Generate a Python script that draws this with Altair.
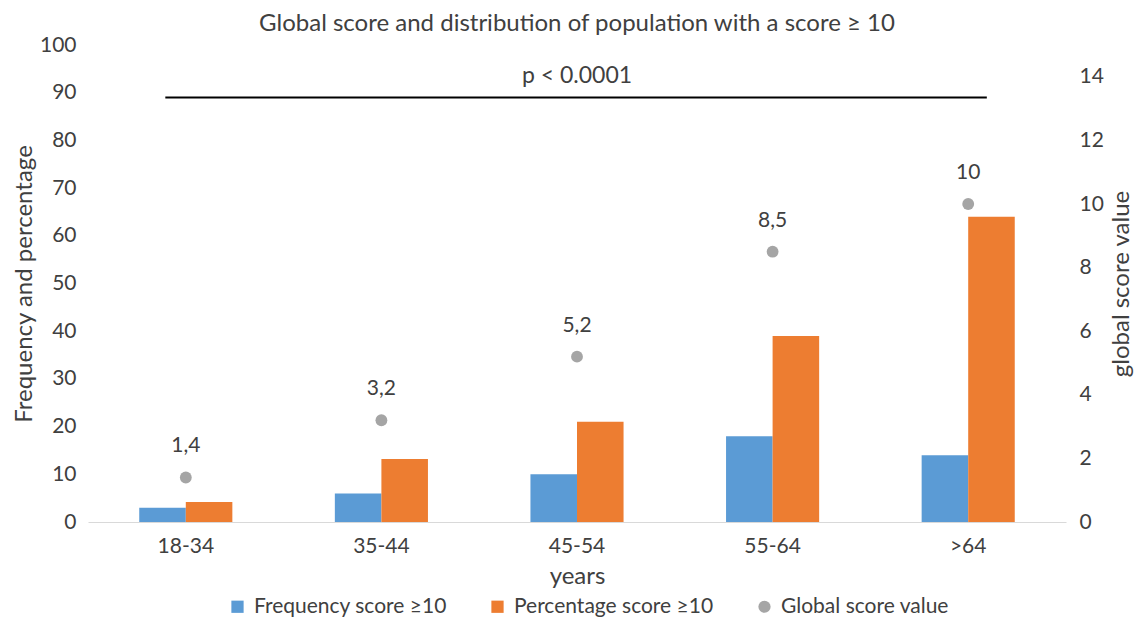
import altair as alt
import pandas as pd

categories = ["18-34", "35-44", "45-54", "55-64", ">64"]
frequency = [3, 6, 10, 18, 14]
percentage = [4.2, 13.2, 21, 39, 64]
global_score = [1.4, 3.2, 5.2, 8.5, 10]
global_labels = ["1,4", "3,2", "5,2", "8,5", "10"]
series_names = ["Frequency score ≥10", "Percentage score ≥10", "Global score value"]
series_colors = ["#5B9BD5", "#ED7D31", "#A5A5A5"]
series_shapes = ["square", "square", "circle"]
p_label = ["p < 0.0001"]
p_line_level = [89]
p_text_level = [93.5]
left_ticks = list(range(0, 101, 10))
right_ticks = list(range(0, 15, 2))

bars_df = pd.DataFrame({
    "year": categories * 2,
    "series": [series_names[0]] * len(categories) + [series_names[1]] * len(categories),
    "value": frequency + percentage,
})
pts_df = pd.DataFrame({
    "year": categories,
    "series": [series_names[2]] * len(categories),
    "score": global_score,
    "label": global_labels,
})
p_df = pd.DataFrame({
    "start": [categories[0]],
    "end": [categories[-1]],
    "mid": [categories[2]],
    "level": p_line_level,
    "tlevel": p_text_level,
    "text": p_label,
})

TXT = "#404040"

x_enc = alt.X(
    "year:N", sort=categories,
    scale=alt.Scale(paddingInner=0.524, paddingOuter=0.262),
    axis=alt.Axis(title="years", labelAngle=0, ticks=False, grid=False,
                  domainColor="#D9D9D9", domainWidth=1.2,
                  labelFontSize=21, labelColor=TXT, labelPadding=13,
                  titleFontSize=24, titleFontWeight="normal", titleColor=TXT,
                  titlePadding=8),
)

left_scale = alt.Scale(domain=[0, 100], nice=False)
left_axis = alt.Axis(values=left_ticks, orient="left", title="Frequency and percentage",
                     domain=False, ticks=False, grid=False,
                     labelFontSize=21, labelColor=TXT, labelPadding=12,
                     titleFontSize=24, titleFontWeight="normal", titleColor=TXT,
                     titlePadding=3)

right_scale = alt.Scale(domain=[0, 15], nice=False)
right_axis = alt.Axis(values=right_ticks, orient="right", title="global score value",
                      domain=False, ticks=False, grid=False,
                      labelFontSize=21, labelColor=TXT, labelPadding=13,
                      titleFontSize=24, titleFontWeight="normal", titleColor=TXT,
                      titlePadding=30, titleAngle=270)

color_scale = alt.Scale(domain=series_names, range=series_colors)
shape_scale = alt.Scale(domain=series_names, range=series_shapes)


def make_legend():
    return alt.Legend(title=None, orient="none", direction="horizontal",
                      legendX=139, legendY=551,
                      labelFontSize=21, labelColor=TXT, labelLimit=400,
                      symbolSize=150, symbolStrokeWidth=0, columnPadding=40,
                      labelOffset=6)


bars = alt.Chart(bars_df).mark_bar().encode(
    x=x_enc,
    xOffset=alt.XOffset("series:N", sort=series_names[:2], scale=alt.Scale(paddingInner=0, paddingOuter=0)),
    y=alt.Y("value:Q", scale=left_scale, axis=left_axis),
    color=alt.Color("series:N", scale=color_scale, legend=make_legend()),
)

p_rule = alt.Chart(p_df).mark_rule(color="#000000", strokeWidth=2).encode(
    x=alt.X("start:N", sort=categories, bandPosition=0.28),
    x2=alt.X2("end:N", bandPosition=0.7),
    y=alt.Y("level:Q"),
)

p_text = alt.Chart(p_df).mark_text(fontSize=23, color=TXT).encode(
    x=alt.X("mid:N", sort=categories),
    y=alt.Y("tlevel:Q"),
    text="text:N",
)

left_layer = alt.layer(bars, p_rule, p_text)

points = alt.Chart(pts_df).mark_point(filled=True, size=140, opacity=1).encode(
    x=alt.X("year:N", sort=categories),
    y=alt.Y("score:Q", scale=right_scale, axis=right_axis),
    color=alt.Color("series:N", scale=color_scale, legend=make_legend()),
    shape=alt.Shape("series:N", scale=shape_scale, legend=make_legend()),
)

labels = alt.Chart(pts_df).mark_text(dy=-31, fontSize=21, color=TXT).encode(
    x=alt.X("year:N", sort=categories),
    y=alt.Y("score:Q", scale=right_scale),
    text="label:N",
)

right_layer = alt.layer(points, labels)

chart = alt.layer(left_layer, right_layer).resolve_scale(y="independent").properties(
    width=978, height=477,
    autosize=alt.AutoSizeParams(type="none"),
    padding={"left": 80, "top": 37, "right": 68, "bottom": 95},
    title=alt.Title("Global score and distribution of population with a score ≥ 10",
                    fontSize=24, fontWeight="normal", color=TXT, offset=-2),
).configure(font="Lato").configure_view(stroke=None)

chart.save("out.html", embed_options={"renderer": "svg", "actions": False})
